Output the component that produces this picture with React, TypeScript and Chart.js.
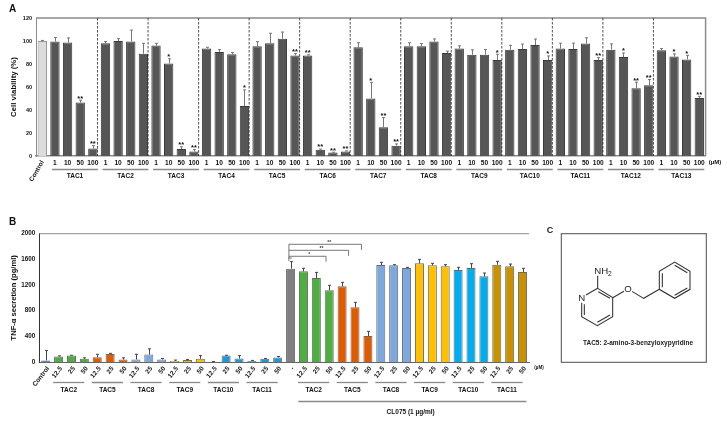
import React, { useEffect, useRef } from "react";
import { Chart, registerables } from "chart.js";

Chart.register(...registerables);

const FONT = '"Liberation Sans", Arial, sans-serif';

// ---------- Panel A ----------
const concentrationsA = ["1", "10", "50", "100"];
const groupsA = ["TAC1","TAC2","TAC3","TAC4","TAC5","TAC6","TAC7","TAC8","TAC9","TAC10","TAC11","TAC12","TAC13"];
const viability = [
  100,
  99.5, 98.7, 46.5, 6.5,
  98, 100, 99.5, 89,
  96, 80.5, 6, 4,
  93.5, 90.5, 88.5, 43.5,
  95.4, 98, 102, 87.5,
  87.5, 5.5, 3, 4,
  94.5, 50, 25, 9,
  95.5, 95.5, 99.5, 89.5,
  93.5, 88, 88, 83.5,
  92.5, 93, 96.5, 83.5,
  93.5, 93, 97.8, 83.5,
  92.5, 86, 59, 61.5,
  92, 86.5, 84, 50.5,
];
const viabilityErr = [
  0.5,
  3.5, 4, 2, 2.5,
  1.5, 2, 10, 9,
  2, 4, 2, 1.5,
  1, 2, 1.5, 14,
  4, 8.7, 5.8, 1.5,
  0.5, 0.5, 0.3, 0.5,
  4, 14, 8.4, 1.5,
  3, 2.3, 2.3, 1.7,
  2.3, 4.3, 4.6, 5,
  3.7, 4.3, 5.2, 3.5,
  4.6, 5.2, 5, 2,
  5, 3.5, 5.2, 5,
  1.4, 2.3, 3.5, 1.4,
];
const viabilitySig = [
  "",
  "", "", "**", "**",
  "", "", "", "",
  "", "*", "**", "**",
  "", "", "", "*",
  "", "", "", "**",
  "**", "**", "**", "**",
  "", "*", "**", "**",
  "", "", "", "",
  "", "", "", "*",
  "", "", "", "*",
  "", "", "", "**",
  "", "*", "**", "**",
  "", "*", "*", "**",
];
const yTicksA = [0, 20, 40, 60, 80, 100, 120];

// ---------- Panel B ----------
const concentrationsB = ["12.5", "25", "50"];
const groupsB = ["TAC2", "TAC5", "TAC8", "TAC9", "TAC10", "TAC11"];
const secretion = [
  25,
  85, 100, 50,
  75, 125, 40,
  40, 115, 40,
  15, 30, 50,
  5, 100, 55,
  15, 50, 70,
  1455,
  1413, 1309, 1117,
  1180, 852, 405,
  1512, 1507, 1465,
  1538, 1507, 1491,
  1434, 1465, 1335,
  1517, 1491, 1403,
];
const secretionErr = [
  155,
  10, 5, 15,
  45, 10, 25,
  80, 90, 15,
  15, 10, 50,
  3, 5, 45,
  10, 5, 15,
  110,
  47, 88, 78,
  62, 78, 73,
  42, 10, 10,
  62, 31, 26,
  42, 68, 52,
  52, 36, 57,
];
const colorControlB = "#2e75b6";
const colorsLowB = ["#4caf3f", "#e05a00", "#7ca8de", "#ffc000", "#1f96d8", "#1f96d8"];
const colorsHighB = ["#4caf3f", "#e05a00", "#7ca8de", "#ffc000", "#00aeef", "#c99000"];
const colorDash = "#7f7f7f";
const yTicksB = [0, 400, 800, 1200, 1600, 2000];
const brackets = [
  { end: 24.5, level: 1835, mark: "**", markAt: 22.0 },
  { end: 23.5, level: 1741, mark: "**", markAt: 21.4 },
  { end: 21.75, level: 1648, mark: "*", markAt: 20.45 },
];

const labelsA = ["Control", ...groupsA.flatMap(() => concentrationsA)];
const labelsB = [
  "Control",
  ...groupsB.flatMap(() => concentrationsB),
  "-",
  ...groupsB.flatMap(() => concentrationsB),
];

function errorBars(values: number[], errs: number[], color: string) {
  return {
    id: "errorBars",
    afterDatasetsDraw(chart: any) {
      const { ctx, scales } = chart;
      ctx.save();
      ctx.strokeStyle = color;
      ctx.lineWidth = 1;
      values.forEach((v, i) => {
        const x = Math.round(scales.x.getPixelForValue(i)) + 0.5;
        const y0 = scales.y.getPixelForValue(v);
        const y1 = scales.y.getPixelForValue(v + errs[i]);
        ctx.beginPath();
        ctx.moveTo(x, y0);
        ctx.lineTo(x, y1);
        ctx.moveTo(x - 1.5, y1);
        ctx.lineTo(x + 1.5, y1);
        ctx.stroke();
      });
      ctx.restore();
    },
  };
}

function text(ctx: any, s: string, x: number, y: number, font: string, color = "#111", rot = 0, align = "center") {
  ctx.save();
  ctx.translate(x, y);
  ctx.rotate(rot);
  ctx.font = font;
  ctx.fillStyle = color;
  ctx.textAlign = align;
  ctx.textBaseline = "middle";
  ctx.fillText(s, 0, 0);
  ctx.restore();
}

const panelAPlugin = {
  id: "panelA",
  afterDraw(chart: any) {
    const { ctx, scales, chartArea } = chart;
    const sx = scales.x;
    const sy = scales.y;
    ctx.save();
    // dashed separators
    ctx.strokeStyle = "#222";
    ctx.lineWidth = 0.8;
    ctx.setLineDash([2.5, 1.5]);
    groupsA.slice(0, -1).forEach((_, g) => {
      const x = sx.getPixelForValue(4 + g * 4 + 0.37);
      ctx.beginPath();
      ctx.moveTo(x, chartArea.top);
      ctx.lineTo(x, chartArea.bottom);
      ctx.stroke();
    });
    ctx.setLineDash([]);
    // groups
    groupsA.forEach((name, g) => {
      const x0 = sx.getPixelForValue(1 + g * 4 - 0.23);
      const x1 = sx.getPixelForValue(4 + g * 4 + 0.4);
      ctx.strokeStyle = "#8a8a8a";
      ctx.lineWidth = 1.3;
      ctx.beginPath();
      ctx.moveTo(x0, 169.5);
      ctx.lineTo(x1, 169.5);
      ctx.stroke();
      text(ctx, name, (x0 + x1) / 2, 176.5, `bold 6.5px ${FONT}`);
    });
    // significance marks
    viabilitySig.forEach((s, i) => {
      if (!s) return;
      const x = sx.getPixelForValue(i);
      const y = sy.getPixelForValue(viability[i] + viabilityErr[i]);
      text(ctx, s, x, y - 1.7, `bold 7.5px ${FONT}`);
    });
    // labels outside the library's axes
    text(ctx, "Control", sx.getPixelForValue(0) - 5.5, 171, `bold 6.5px ${FONT}`, "#111", -Math.PI / 3);
    text(ctx, "(µM)", 715, 162.7, `bold 6px ${FONT}`);
    text(ctx, "A", 12.5, 9.5, `bold 10px ${FONT}`, "#111");
    ctx.restore();
  },
};

const panelBPlugin = {
  id: "panelB",
  afterDraw(chart: any) {
    const { ctx, scales } = chart;
    const sx = scales.x;
    const sy = scales.y;
    ctx.save();
    const off = 210; // canvas top in page
    const group = (name: string, first: number) => {
      const x0 = sx.getPixelForValue(first - 0.42);
      const x1 = sx.getPixelForValue(first + 2);
      ctx.strokeStyle = "#8a8a8a";
      ctx.lineWidth = 1.3;
      ctx.beginPath();
      ctx.moveTo(x0, 382 - off + 0.5);
      ctx.lineTo(x1, 382 - off + 0.5);
      ctx.stroke();
      text(ctx, name, (x0 + x1) / 2, 390.5 - off, `bold 6.5px ${FONT}`);
    };
    groupsB.forEach((n, g) => group(n, 1 + g * 3));
    groupsB.forEach((n, g) => group(n, 20 + g * 3));
    // CL075 bracket
    ctx.strokeStyle = "#8a8a8a";
    ctx.lineWidth = 1.3;
    ctx.beginPath();
    ctx.moveTo(sx.getPixelForValue(19.6), 401.5 - off);
    ctx.lineTo(sx.getPixelForValue(37.3), 401.5 - off);
    ctx.stroke();
    text(ctx, "CL075 (1 µg/ml)", 410.7, 412 - off, `bold 6.5px ${FONT}`);
    text(ctx, "(µM)", 539, 368 - off, `bold 4.5px ${FONT}`);
    text(ctx, "B", 12.5, 222.5 - off, `bold 10px ${FONT}`, "#111");

    // significance brackets
    const x0 = sx.getPixelForValue(18.87);
    ctx.strokeStyle = "#555";
    ctx.lineWidth = 0.8;
    ctx.beginPath();
    ctx.moveTo(x0, sy.getPixelForValue(brackets[0].level));
    ctx.lineTo(x0, sy.getPixelForValue(1570));
    ctx.stroke();
    brackets.forEach((b) => {
      const y = sy.getPixelForValue(b.level);
      const xe = sx.getPixelForValue(b.end);
      ctx.beginPath();
      ctx.moveTo(x0, y);
      ctx.lineTo(xe, y);
      ctx.lineTo(xe, y + 5.5);
      ctx.stroke();
      text(ctx, b.mark, sx.getPixelForValue(b.markAt), y - 2, `bold 5px ${FONT}`, "#444");
    });
    text(ctx, "**", sx.getPixelForValue(19) - 0.5, sy.getPixelForValue(1600), `bold 4.5px ${FONT}`, "#777");
    ctx.restore();
  },
};

const framePlugin = {
  id: "frame",
  beforeDatasetsDraw(chart: any) {
    const { ctx, chartArea: a } = chart;
    const o = chart.options.plugins.frame;
    ctx.save();
    ctx.strokeStyle = "#8c8c8c";
    ctx.lineWidth = o.topWidth;
    ctx.beginPath();
    ctx.moveTo(a.left, a.top);
    ctx.lineTo(o.topRight, a.top);
    if (o.right) ctx.lineTo(a.right, a.bottom);
    ctx.stroke();
    ctx.restore();
  },
};

export default function App() {
  const aRef = useRef<HTMLCanvasElement>(null);
  const bRef = useRef<HTMLCanvasElement>(null);

  useEffect(() => {
    const chartA = new Chart(aRef.current as HTMLCanvasElement, {
      type: "bar",
      data: {
        labels: labelsA,
        datasets: [
          {
            data: viability,
            backgroundColor: viability.map((_, i) => (i === 0 ? "#dcdcdc" : "#565656")),
            borderColor: viability.map((_, i) => (i === 0 ? "#9a9a9a" : "#3a3a3a")),
            borderWidth: 1,
            categoryPercentage: 1,
            barPercentage: 0.74,
          },
        ],
      },
      options: {
        responsive: false,
        animation: false,
        layout: { padding: { left: 9, top: 18, right: 21.4, bottom: 0 } },
        plugins: {
          legend: { display: false },
          tooltip: { enabled: false },
          frame: { topWidth: 1.5, right: true, topRight: 705.6 },
        } as any,
        scales: {
          x: {
            afterFit: (s: any) => { s.height = 205 - 156; },
            grid: { display: false, drawTicks: false },
            border: { color: "#8c8c8c", width: 1.5 },
            ticks: {
              autoSkip: false,
              maxRotation: 0,
              minRotation: 0,
              padding: 3.5,
              color: "#111",
              font: { family: FONT, size: 6.6, weight: "bold" },
              callback: (_v: any, i: number) => (i === 0 ? "" : labelsA[i]),
            },
          },
          y: {
            afterFit: (s: any) => { s.width = 27; },
            min: 0,
            max: 120,
            afterBuildTicks: (s: any) => { s.ticks = yTicksA.map((value) => ({ value })); },
            grid: { display: false, drawTicks: true, tickLength: 2, tickColor: "#777" },
            border: { color: "#8c8c8c", width: 1 },
            ticks: {
              padding: 2,
              color: "#111",
              font: { family: FONT, size: 5.5, weight: "bold" },
              callback: (v: any) => String(v),
            },
            title: {
              display: true,
              text: "Cell viability (%)",
              color: "#111",
              padding: 0,
              font: { family: FONT, size: 7.8, weight: "bold" },
            },
          },
        },
      },
      plugins: [framePlugin, errorBars(viability, viabilityErr, "#777"), panelAPlugin],
    });

    const chartB = new Chart(bRef.current as HTMLCanvasElement, {
      type: "bar",
      data: {
        labels: labelsB,
        datasets: [
          {
            data: secretion,
            backgroundColor: secretion.map((_, i) => {
              if (i === 0) return colorControlB;
              if (i === 19) return colorDash;
              if (i < 19) return colorsLowB[Math.floor((i - 1) / 3)];
              return colorsHighB[Math.floor((i - 20) / 3)];
            }),
            borderColor: "#6a6a6a",
            borderWidth: 1,
            categoryPercentage: 1,
            barPercentage: 0.7,
          },
        ],
      },
      options: {
        responsive: false,
        animation: false,
        layout: { padding: { left: 9, top: 23.7, right: 198, bottom: 0 } },
        plugins: {
          legend: { display: false },
          tooltip: { enabled: false },
          frame: { topWidth: 1, right: false, topRight: 529 },
        } as any,
        scales: {
          x: {
            afterFit: (s: any) => { s.height = 212 - (362 - 210); },
            grid: { display: false, drawTicks: false },
            border: { color: "#666", width: 1 },
            ticks: {
              autoSkip: false,
              maxRotation: 52,
              minRotation: 52,
              padding: 3,
              labelOffset: 2.5,
              color: "#111",
              font: { family: FONT, size: 6.5, weight: "bold" },
            },
          },
          y: {
            afterFit: (s: any) => { s.width = 30.25; },
            min: 0,
            max: 2000,
            afterBuildTicks: (s: any) => { s.ticks = yTicksB.map((value) => ({ value })); },
            grid: { display: false, drawTicks: true, tickLength: 2, tickColor: "#555" },
            border: { color: "#333", width: 1 },
            ticks: {
              padding: 2,
              color: "#111",
              font: { family: FONT, size: 6.3, weight: "bold" },
              callback: (v: any) => String(v),
            },
            title: {
              display: true,
              text: "TNF-α secretion (pg/ml)",
              color: "#111",
              padding: 0,
              font: { family: FONT, size: 7.6, weight: "bold" },
            },
          },
        },
      },
      plugins: [framePlugin, errorBars(secretion, secretionErr, "#444"), panelBPlugin],
    });

    return () => {
      chartA.destroy();
      chartB.destroy();
    };
  }, []);

  return (
    <div style={{ position: "absolute", left: 0, top: 0, width: 727, height: 422, background: "#fff", overflow: "hidden", filter: "blur(0.35px)" }}>
      <canvas ref={aRef} width={727} height={205} style={{ position: "absolute", left: 0, top: 0 }} />
      <canvas ref={bRef} width={727} height={212} style={{ position: "absolute", left: 0, top: 210 }} />
      <svg
        width={197}
        height={212}
        viewBox="0 0 591 636"
        style={{ position: "absolute", left: 530, top: 210 }}
        fontFamily={FONT}
      >
        <text x={60} y={68} fontSize={27} fontWeight="bold" textAnchor="middle" fill="#222">C</text>
        <rect x={94} y={71} width={435} height={386} fill="none" stroke="#666" strokeWidth={3.5} />
        <g stroke="#333" strokeWidth={3.2} fill="none">
          <path d="M203 235 V197 M203 235 L168 255 M155 278 V320 L202 347 L248 320 V263 L203 235 M163 283 V315 M202 337 L240 315 M240 265 L205 245" />
          <path d="M248 263 L282 244 M306 244 L341 265 L388 238" />
          <path d="M388 238 V184 L434 156 L480 184 V238 L434 265 Z M397 190 V232 M434 166 L472 188 M472 234 L434 256" />
        </g>
        <g fill="#222" fontSize={29}>
          <text x={193} y={193}>NH</text>
          <text x={234} y={199} fontSize={20}>2</text>
          <text x={155} y={273} textAnchor="middle">N</text>
          <text x={294} y={247} textAnchor="middle">O</text>
        </g>
        <text x={324} y={406} fontSize={19.5} fontWeight="bold" textAnchor="middle" fill="#222">
          TAC5: 2-amino-3-benzyloxypyridine
        </text>
      </svg>
    </div>
  );
}
